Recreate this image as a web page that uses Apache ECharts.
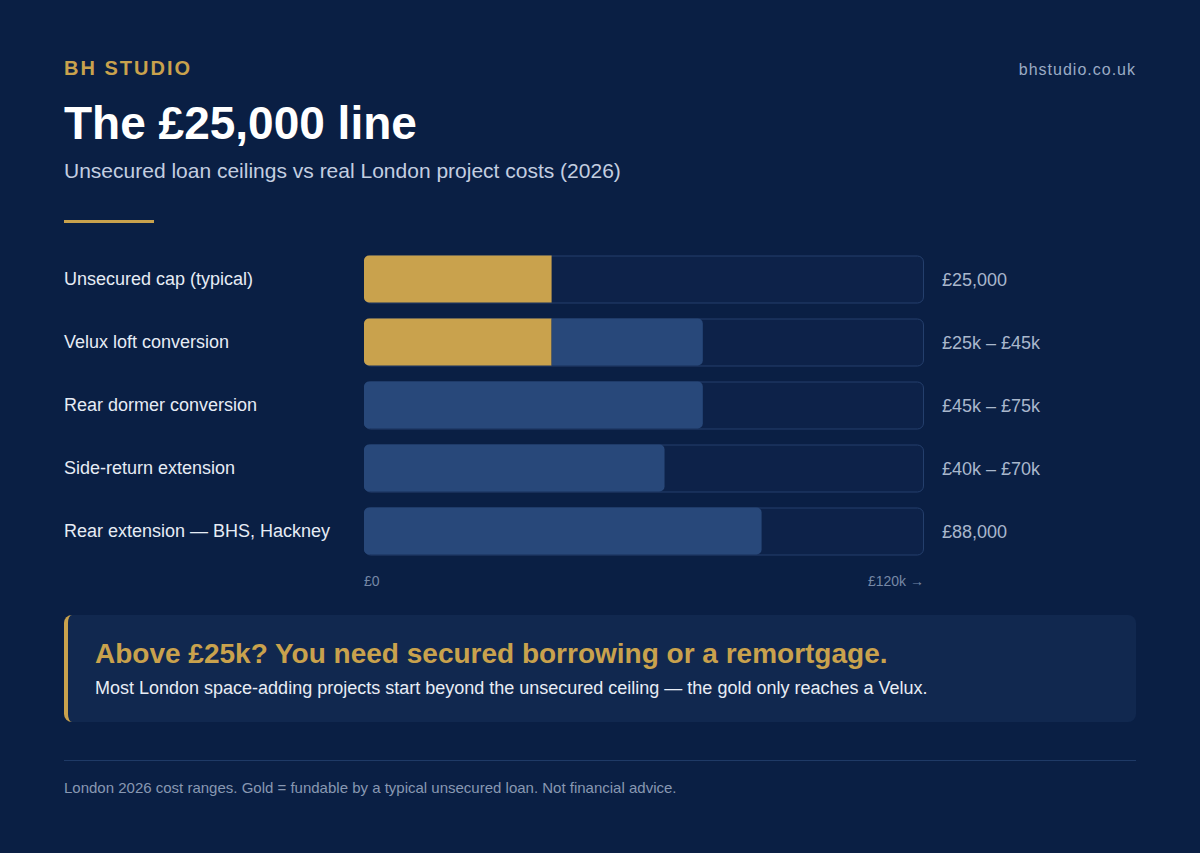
<!DOCTYPE html>
<html>
<head>
<meta charset="utf-8">
<script src="https://cdn.jsdelivr.net/npm/echarts@6/dist/echarts.min.js"></script>
<style>
  html, body { margin: 0; padding: 0; }
  body { width: 1200px; height: 853px; background: #0a1f44; position: relative; overflow: hidden;
         font-family: "Liberation Sans", Arial, sans-serif; }
  .abs { position: absolute; white-space: nowrap; }
  .brand { left: 64px; top: 56px; font-size: 20px; font-weight: bold; color: #c9a24d; letter-spacing: 2px; line-height: 24px; }
  .site { right: 64px; top: 60px; font-size: 16px; color: #9aabc4; letter-spacing: 1px; line-height: 20px; }
  .title { left: 64px; top: 96px; font-size: 46px; font-weight: bold; color: #ffffff; line-height: 54px; }
  .sub { left: 64px; top: 158px; font-size: 21px; color: #c3cee0; line-height: 26px; }
  .rule { left: 64px; top: 220px; width: 90px; height: 3px; background: #c9a24d; }
  #chart { left: 0; top: 240px; width: 1200px; height: 360px; }
  .callout { left: 64px; top: 615px; width: 1072px; height: 107px; background: #11284f;
             border-left: 4px solid #c9a24d; border-radius: 8px; box-sizing: border-box; }
  .callout .h { position: absolute; left: 27px; top: 22px; font-size: 28px; font-weight: bold; color: #c9a24d; line-height: 34px; white-space: nowrap; }
  .callout .p { position: absolute; left: 27px; top: 62px; font-size: 18px; color: #e8edf5; line-height: 22px; white-space: nowrap; }
  .divider { left: 64px; top: 760px; width: 1072px; height: 1px; background: #1f3a66; }
  .foot { left: 64px; top: 778px; font-size: 15px; color: #8898b2; line-height: 19px; }
</style>
</head>
<body>
<div class="abs brand">BH STUDIO</div>
<div class="abs site">bhstudio.co.uk</div>
<div class="abs title">The £25,000 line</div>
<div class="abs sub">Unsecured loan ceilings vs real London project costs (2026)</div>
<div class="abs rule"></div>
<div class="abs" id="chart"></div>
<div class="abs callout">
  <div class="h">Above £25k? You need secured borrowing or a remortgage.</div>
  <div class="p">Most London space-adding projects start beyond the unsecured ceiling — the gold only reaches a Velux.</div>
</div>
<div class="abs divider"></div>
<div class="abs foot">London 2026 cost ranges. Gold = fundable by a typical unsecured loan. Not financial advice.</div>

<script>
// categories, top to bottom
var projects = ['Unsecured cap (typical)', 'Velux loft conversion', 'Rear dormer conversion', 'Side-return extension', 'Rear extension — BHS, Hackney'];
// bar lengths as drawn, in £k on the 0–120k track
var goldEnd = [40.2, 40.2, 0, 0, 0];
var barEnd = [40.2, 72.6, 72.6, 64.4, 85.2];
var rangeLabels = ['£25,000', '£25k – £45k', '£45k – £75k', '£40k – £70k', '£88,000'];
var axisMax = 120;
var tickLabels = ['£0', '£120k →'];

var myChart = echarts.init(document.getElementById('chart'), null, { renderer: 'svg' });

var trackData = projects.map(function () { return axisMax; });
var goldData = goldEnd.map(function (v) {
    return { value: v, itemStyle: { borderRadius: [5, 0, 0, 5] } };
});
var blueData = barEnd.map(function (v, i) {
    var start = goldEnd[i];
    return { value: v - start, itemStyle: { borderRadius: start > 0 ? [0, 5, 5, 0] : 5 } };
});

var option = {
    animation: false,
    grid: { left: 364, width: 560, top: 7.5, height: 315, containLabel: false },
    xAxis: {
        type: 'value',
        min: 0,
        max: axisMax,
        interval: axisMax,
        splitLine: { show: false },
        axisLine: { show: false },
        axisTick: { show: false },
        axisLabel: {
            margin: 11,
            fontSize: 14,
            color: '#7688a6',
            fontFamily: 'Liberation Sans',
            alignMinLabel: 'left',
            alignMaxLabel: 'right',
            formatter: function (v) { return v === 0 ? tickLabels[0] : tickLabels[1]; }
        }
    },
    yAxis: {
        type: 'category',
        data: projects,
        inverse: true,
        axisLine: { show: false },
        axisTick: { show: false },
        splitLine: { show: false },
        axisLabel: {
            margin: 300,
            align: 'left',
            fontSize: 18,
            color: '#e6ecf5',
            fontFamily: 'Liberation Sans'
        }
    },
    series: [{
        name: 'track',
        type: 'bar',
        data: trackData,
        barWidth: 48,
        silent: true,
        z: 1,
        itemStyle: { color: '#0d2249', borderColor: '#243f6c', borderWidth: 1, borderRadius: 6 },
        label: {
            show: true,
            position: 'right',
            distance: 18,
            fontSize: 18,
            color: '#a9b7cc',
            fontFamily: 'Liberation Sans',
            formatter: function (p) { return rangeLabels[p.dataIndex]; }
        }
    }, {
        name: 'gold',
        type: 'bar',
        stack: 'cost',
        data: goldData,
        barWidth: 47,
        barGap: '-100%',
        z: 2,
        itemStyle: { color: '#c9a24d' }
    }, {
        name: 'blue',
        type: 'bar',
        stack: 'cost',
        data: blueData,
        barWidth: 47,
        z: 2,
        itemStyle: { color: '#28487a' }
    }]
};
myChart.setOption(option);
</script>
</body>
</html>
